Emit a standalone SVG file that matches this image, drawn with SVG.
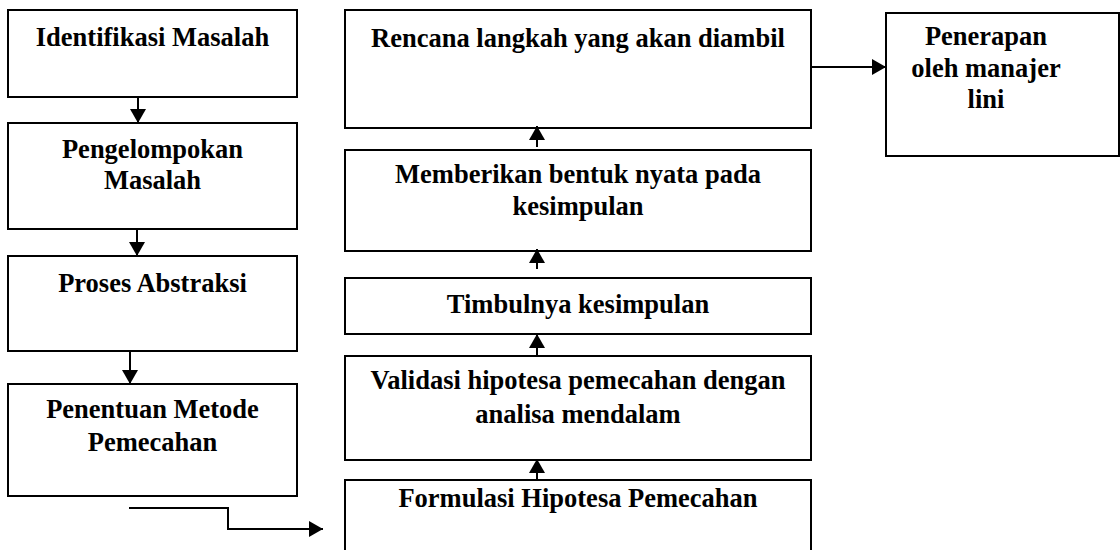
<svg xmlns="http://www.w3.org/2000/svg" width="1120" height="550" viewBox="0 0 1120 550">
<style>
.box{fill:#fff;stroke:#000;stroke-width:2}
.t{font-family:'Liberation Serif',serif;font-weight:700;font-size:26.5px;fill:#000;text-anchor:middle}
.c{fill:none;stroke:#000;stroke-width:2;marker-end:url(#ah)}
</style>
<defs>
<marker id="ah" markerUnits="userSpaceOnUse" markerWidth="14" markerHeight="16" refX="14" refY="8" orient="auto" viewBox="0 0 14 16">
<path d="M0,0 L14,8 L0,16 Z" fill="#000"/>
</marker>
</defs>
<rect width="1120" height="550" fill="#fff"/>
<g id="n1"><rect class="box" x="8" y="10" width="289" height="87"/><text class="t" font-family="Liberation Serif" x="152.5" y="46">Identifikasi Masalah</text></g>
<g id="n2"><rect class="box" x="8" y="123" width="289" height="106"/><text class="t" x="152.5" y="158">Pengelompokan</text><text class="t" x="152.5" y="189">Masalah</text></g>
<g id="n3"><rect class="box" x="8" y="256" width="289" height="95"/><text class="t" x="152.5" y="292">Proses Abstraksi</text></g>
<g id="n4"><rect class="box" x="8" y="384" width="289" height="112"/><text class="t" x="152.5" y="418">Penentuan Metode</text><text class="t" x="152.5" y="451">Pemecahan</text></g>
<g id="n5"><rect class="box" x="345" y="10" width="466" height="118"/><text class="t" x="578" y="47">Rencana langkah yang akan diambil</text></g>
<g id="n6"><rect class="box" x="345" y="150" width="466" height="101"/><text class="t" x="578" y="183">Memberikan bentuk nyata pada</text><text class="t" x="578" y="215">kesimpulan</text></g>
<g id="n7"><rect class="box" x="345" y="278" width="466" height="56"/><text class="t" x="578" y="313">Timbulnya kesimpulan</text></g>
<g id="n8"><rect class="box" x="345" y="356" width="466" height="104"/><text class="t" x="578" y="389">Validasi hipotesa pemecahan dengan</text><text class="t" x="578" y="423">analisa mendalam</text></g>
<g id="n9"><rect class="box" x="345" y="480" width="466" height="90"/><text class="t" x="578" y="507">Formulasi Hipotesa Pemecahan</text></g>
<g id="n10"><rect class="box" x="886" y="13" width="233" height="143"/><text class="t" x="986" y="45">Penerapan</text><text class="t" x="986" y="77">oleh manajer</text><text class="t" x="986" y="108">lini</text></g>
<g id="connectors">
<path class="c" d="M138,97 V123"/>
<path class="c" d="M137,229 V256"/>
<path class="c" d="M130,352 V384"/>
<path class="c" d="M129,508 H228 V529 H323"/>
<path class="c" d="M537,480 V459"/>
<path class="c" d="M537,356 V334"/>
<path class="c" d="M537,269 V249"/>
<path class="c" d="M537,147 V126"/>
<path class="c" d="M811,67 H886"/>
</g>
</svg>
